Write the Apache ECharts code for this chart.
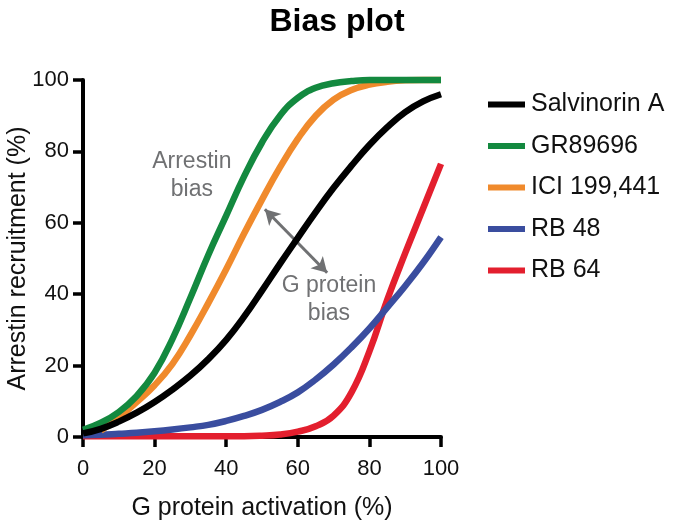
<!DOCTYPE html>
<html>
<head>
<meta charset="utf-8">
<script src="https://cdn.jsdelivr.net/npm/echarts@6/dist/echarts.min.js"></script>
<style>
  html, body { margin: 0; padding: 0; background: #fff; }
  #chart { width: 674px; height: 521px; }
</style>
</head>
<body>
<div id="chart"></div>
<script>
// G protein activation (%) sample points
var xValues = [0, 5, 10, 15, 20, 25, 30, 35, 40, 45, 50, 55, 60, 65, 70, 75, 80, 85, 90, 95, 100];

// arrestin recruitment (%)
var salvinorinA = [1, 2.3, 4.3, 6.8, 9.8, 13.3, 17.2, 21.8, 27.2, 33.7, 41, 48.5, 55.8, 63, 69.8, 76, 81.8, 86.8, 91, 94, 96];
var gr89696 = [2, 4, 7, 11.5, 18, 27.5, 39, 51, 62, 73, 82.5, 90, 95, 97.8, 99.1, 99.7, 100, 100, 100, 100, 100];
var ici199441 = [null, 1.8, 5.5, 9.8, 14.5, 20.5, 28.5, 37.5, 47, 57, 66.5, 75.5, 83.5, 90, 94.5, 97.2, 98.7, 99.5, 99.9, 100, 100];
var rb48 = [0.5, 0.6, 0.9, 1.2, 1.6, 2.1, 2.7, 3.4, 4.5, 5.9, 7.6, 9.8, 12.5, 16.1, 20.3, 25.1, 30.4, 36.3, 42.3, 48.8, 56];
var rb64 = [0.2, 0.2, 0.2, 0.2, 0.2, 0.2, 0.2, 0.2, 0.2, 0.2, 0.35, 0.7, 1.5, 3, 6, 12.5, 24, 38.5, 51.5, 64, 76.5];

var seriesNames = ['Salvinorin A', 'GR89696', 'ICI 199,441', 'RB 48', 'RB 64'];
var seriesValues = [salvinorinA, gr89696, ici199441, rb48, rb64];
var seriesColors = ['#000000', '#13893f', '#f08a2c', '#3a4d9f', '#e31f2e'];

var axisTicks = [0, 20, 40, 60, 80, 100];

var fontFam = '"Liberation Sans", Arial, Helvetica, sans-serif';
var grey = '#707173';

function pairs(ys) {
    var out = [];
    xValues.forEach(function (x, i) {
        if (ys[i] !== null) out.push([x, ys[i]]);
    });
    return out;
}

var chart = echarts.init(document.getElementById('chart'));

var axisCommon = {
    type: 'value',
    min: axisTicks[0],
    max: axisTicks[axisTicks.length - 1],
    interval: axisTicks[1] - axisTicks[0],
    nameLocation: 'middle',
    nameMoveOverlap: false,
    nameTextStyle: { fontSize: 25, color: '#111', fontFamily: fontFam },
    axisLine: { show: true, onZero: false, lineStyle: { color: '#000', width: 4 } },
    axisTick: { show: true, inside: false, length: 10, lineStyle: { color: '#000', width: 3.5 } },
    axisLabel: { fontSize: 22, color: '#111', fontFamily: fontFam },
    splitLine: { show: false }
};

var option = {
    animation: false,
    backgroundColor: '#fff',
    title: {
        text: 'Bias plot',
        left: 'center',
        top: 1,
        textStyle: { fontSize: 32, fontWeight: 'bold', color: '#000', fontFamily: fontFam }
    },
    grid: { left: 83, right: 233, top: 80, bottom: 84, containLabel: false, outerBoundsMode: 'none' },
    legend: {
        orient: 'vertical',
        left: 483,
        top: 87,
        icon: 'rect',
        itemWidth: 37,
        itemHeight: 6,
        itemGap: 16.5,
        data: seriesNames,
        textStyle: { fontSize: 25, color: '#111', fontFamily: fontFam, padding: [0, 0, 0, 1] }
    },
    xAxis: Object.assign({}, axisCommon, {
        name: 'G protein activation (%)',
        nameGap: 59,
        axisLabel: Object.assign({}, axisCommon.axisLabel, { margin: 21 })
    }),
    yAxis: Object.assign({}, axisCommon, {
        name: 'Arrestin recruitment (%)',
        nameGap: 52,
        axisLabel: Object.assign({}, axisCommon.axisLabel, { margin: 14 })
    }),
    series: seriesNames.map(function (name, i) {
        return {
            name: name,
            type: 'line',
            data: pairs(seriesValues[i]),
            smooth: 0.45,
            showSymbol: false,
            clip: false,
            color: seriesColors[i],
            lineStyle: { width: 6.5, color: seriesColors[i] },
            z: 3 + (4 - i)
        };
    }).concat([{
        // annotations: double arrow and labels
        name: 'notes',
        type: 'line',
        data: [],
        z: 10,
        markLine: {
            silent: true,
            symbol: ['arrow', 'arrow'],
            symbolSize: [13, 15],
            lineStyle: { color: grey, width: 3, type: 'solid' },
            label: { show: false },
            data: [[{ coord: [50.8, 63.8] }, { coord: [68.2, 46] }]]
        },
        markPoint: {
            silent: true,
            symbol: 'circle',
            symbolSize: 0,
            label: {
                show: true,
                position: 'inside',
                color: grey,
                fontSize: 23,
                lineHeight: 28,
                align: 'center',
                fontFamily: fontFam
            },
            data: [
                { coord: [30.4, 73.3], value: 'Arrestin\nbias', label: { formatter: 'Arrestin\nbias' } },
                { coord: [68.7, 38.5], value: 'G protein\nbias', label: { formatter: 'G protein\nbias' } }
            ]
        }
    }])
};

option && chart.setOption(option);
</script>
</body>
</html>
